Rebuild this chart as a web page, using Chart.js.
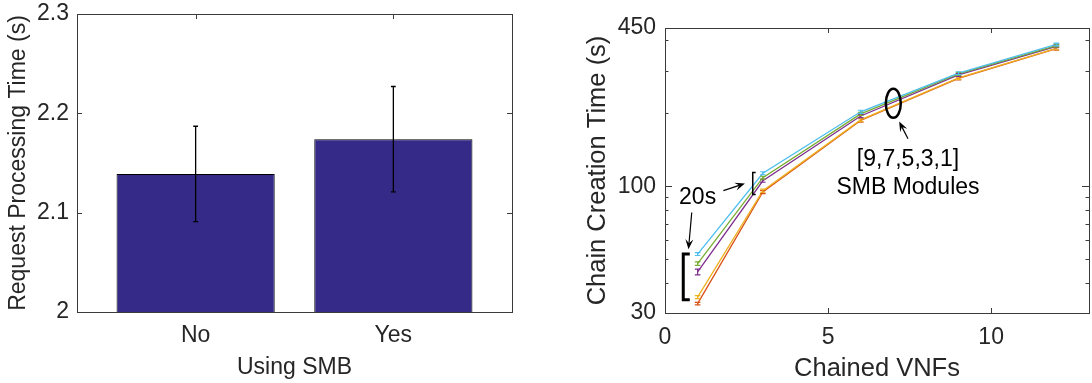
<!DOCTYPE html>
<html>
<head>
<meta charset="utf-8">
<script src="https://cdn.jsdelivr.net/npm/chart.js@4"></script>
<style>
  body { margin: 0; background: #fff; }
  #leftBox { position: absolute; left: 0; top: 0; width: 546px; height: 383px; }
  #rightBox { position: absolute; left: 546px; top: 0; width: 546px; height: 383px; }
</style>
</head>
<body>
<div id="leftBox"><canvas id="barChart"></canvas></div>
<div id="rightBox"><canvas id="lineChart"></canvas></div>
<script>
// ---- left chart data: request processing time with / without SMB ----
const smbLabels = ["No", "Yes"];
const smbPos = [1, 2];
const procTime = [2.139, 2.174];
const procErr = [0.048, 0.053];
const procTicks = [2, 2.1, 2.2, 2.3];

// ---- right chart data: chain creation time vs chained VNFs ----
const vnfs = [1, 3, 6, 9, 12];
const smb9 = [52.5, 113.2, 203, 293, 385];
const smb7 = [48.0, 108.5, 199, 291, 381];
const smb5 = [44.3, 105.4, 195, 288, 378];
const smb3 = [34.9, 95.9, 188, 280, 371];
const smb1 = [32.8, 94.7, 187, 279, 370];
const err9 = [0.7, 1.6, 3, 4, 5];
const err7 = [0.8, 1.5, 3, 4, 5];
const err5 = [1.2, 1.5, 3, 4, 5];
const err3 = [0.5, 1.4, 3, 4, 5];
const err1 = [0.4, 1.4, 3, 4, 5];
const vnfTicks = [0, 5, 10];
const chainTicks = [30, 40, 50, 60, 70, 80, 90, 100, 200, 300, 400, 450];
const chainLabels = [30, 100, 450];

Chart.defaults.font.family = "'Liberation Sans', Arial, Helvetica, sans-serif";
Chart.defaults.color = "#262626";

const axisColor = "#3a3a3a";

// draws the matlab style box and inward ticks
const boxTicks = {
  id: "boxTicks",
  beforeDatasetsDraw(chart, args, opts) {
    const { ctx, chartArea: a, scales: { x, y } } = chart;
    ctx.save();
    ctx.strokeStyle = axisColor;
    ctx.lineWidth = 1;
    ctx.beginPath();
    x.ticks.forEach((t) => {
      const px = Math.round(x.getPixelForValue(t.value)) + 0.5;
      ctx.moveTo(px, a.bottom); ctx.lineTo(px, a.bottom - opts.xLen);
      ctx.moveTo(px, a.top); ctx.lineTo(px, a.top + opts.xLen);
    });
    y.ticks.forEach((t) => {
      const py = Math.round(y.getPixelForValue(t.value)) + 0.5;
      const len = t.label !== "" ? opts.yLen : opts.minorLen;
      ctx.moveTo(a.left, py); ctx.lineTo(a.left + len, py);
      ctx.moveTo(a.right, py); ctx.lineTo(a.right - len, py);
    });
    ctx.stroke();
    ctx.restore();
  },
  afterDatasetsDraw(chart) {
    const { ctx, chartArea: a } = chart;
    ctx.save();
    ctx.strokeStyle = axisColor;
    ctx.lineWidth = 1;
    ctx.strokeRect(Math.round(a.left) + 0.5, Math.round(a.top) + 0.5,
      Math.round(a.right - a.left), Math.round(a.bottom - a.top));
    ctx.restore();
  },
};

// black error bars on the bars
const barErrors = {
  id: "barErrors",
  afterDatasetsDraw(chart) {
    const { ctx, scales: { x, y } } = chart;
    ctx.save();
    ctx.strokeStyle = "#000";
    ctx.lineWidth = 1.3;
    procTime.forEach((v, i) => {
      const px = x.getPixelForValue(smbPos[i]);
      const hi = y.getPixelForValue(v + procErr[i]);
      const lo = y.getPixelForValue(v - procErr[i]);
      ctx.beginPath();
      ctx.moveTo(px, hi); ctx.lineTo(px, lo);
      ctx.moveTo(px - 2.4, hi); ctx.lineTo(px + 2.4, hi);
      ctx.moveTo(px - 2.4, lo); ctx.lineTo(px + 2.4, lo);
      ctx.stroke();
    });
    ctx.restore();
  },
};

// colored error bars on the lines
const lineErrors = {
  id: "lineErrors",
  afterDatasetsDraw(chart) {
    const { ctx, scales: { x, y } } = chart;
    ctx.save();
    ctx.lineWidth = 1.2;
    chart.data.datasets.slice().reverse().forEach((ds) => {
      ctx.strokeStyle = ds.borderColor;
      ds.data.forEach((p, i) => {
        const px = x.getPixelForValue(p.x);
        const hi = y.getPixelForValue(p.y + ds.errs[i]);
        const lo = y.getPixelForValue(p.y - ds.errs[i]);
        ctx.beginPath();
        ctx.moveTo(px, hi); ctx.lineTo(px, lo);
        ctx.moveTo(px - 2.8, hi); ctx.lineTo(px + 2.8, hi);
        ctx.moveTo(px - 2.8, lo); ctx.lineTo(px + 2.8, lo);
        ctx.stroke();
      });
    });
    ctx.restore();
  },
};

function arrow(ctx, x1, y1, x2, y2) {
  const ang = Math.atan2(y2 - y1, x2 - x1);
  const c = Math.cos(ang), s = Math.sin(ang);
  const hl = 10, hw = 4;
  ctx.beginPath();
  ctx.moveTo(x1, y1);
  ctx.lineTo(x2 - hl * 0.6 * c, y2 - hl * 0.6 * s);
  ctx.stroke();
  ctx.beginPath();
  ctx.moveTo(x2, y2);
  ctx.lineTo(x2 - hl * c + hw * s, y2 - hl * s - hw * c);
  ctx.lineTo(x2 - hl * 0.6 * c, y2 - hl * 0.6 * s);
  ctx.lineTo(x2 - hl * c - hw * s, y2 - hl * s + hw * c);
  ctx.closePath();
  ctx.fill();
}

function bracket(ctx, x, xs, yTop, yBot) {
  ctx.beginPath();
  ctx.moveTo(xs, yTop); ctx.lineTo(x, yTop); ctx.lineTo(x, yBot); ctx.lineTo(xs, yBot);
  ctx.stroke();
}

// text, arrows, brackets and the ellipse on the right chart (anchored in data coords)
const notes = {
  id: "notes",
  afterDraw(chart) {
    const { ctx, scales: { x, y } } = chart;
    const X = (v) => x.getPixelForValue(v);
    const Y = (v) => y.getPixelForValue(v);
    ctx.save();
    ctx.fillStyle = "#000";
    ctx.strokeStyle = "#000";
    ctx.font = "23px 'Liberation Sans', Arial, sans-serif";
    ctx.textAlign = "center";
    ctx.textBaseline = "middle";
    ctx.fillText("20s", X(1.0), Y(90));
    ctx.fillText("[9,7,5,3,1]", X(7.45), Y(129));
    ctx.fillText("SMB Modules", X(7.45), Y(99));

    ctx.lineWidth = 1.2;
    arrow(ctx, X(0.82), Y(78), X(0.72), Y(55));
    arrow(ctx, X(1.79), Y(96), X(2.45), Y(102.7));
    arrow(ctx, X(7.45), Y(157), X(7.18), Y(185));

    ctx.lineWidth = 3;
    bracket(ctx, X(0.56), X(0.76), Y(52.5), Y(34));
    ctx.lineWidth = 1.5;
    bracket(ctx, X(2.69), X(2.78), Y(114), Y(92.6));

    ctx.lineWidth = 2.5;
    ctx.beginPath();
    ctx.ellipse(X(7.0), Y(220), 7.5, 14.5, 0, 0, Math.PI * 2);
    ctx.stroke();
    ctx.restore();
  },
};

// fixed axis sizes so the plot boxes land where the reference has them
const fixY = (w) => (s) => { s.width = w; s.paddingTop = 0; s.paddingBottom = 0; };
const fixX = (h) => (s) => { s.height = h; s.paddingLeft = 0; s.paddingRight = 0; };

new Chart(document.getElementById("barChart"), {
  type: "bar",
  data: {
    datasets: [{
      data: procTime.map((v, i) => ({ x: smbPos[i], y: v })),
      backgroundColor: "#352a87",
      borderColor: "#000",
      borderWidth: 1,
      barPercentage: 0.8,
      categoryPercentage: 1,
    }],
  },
  options: {
    responsive: true,
    maintainAspectRatio: false,
    animation: false,
    layout: { padding: { top: 14, right: 34, left: 0, bottom: 0 } },
    plugins: { legend: { display: false }, tooltip: { enabled: false }, boxTicks: { xLen: 5, yLen: 5, minorLen: 3 } },
    scales: {
      x: {
        type: "linear",
        offset: false,
        min: 0.4,
        max: 2.6,
        afterBuildTicks: (s) => { s.ticks = smbPos.map((v) => ({ value: v })); },
        afterFit: fixX(71),
        grid: { display: false, drawTicks: false },
        border: { display: false },
        ticks: { font: { size: 23 }, padding: 10, autoSkip: false, callback: (v) => smbLabels[smbPos.indexOf(v)] },
        title: { display: true, text: "Using SMB", font: { size: 23, lineHeight: 1 }, padding: { top: 0, bottom: 4 } },
      },
      y: {
        min: 2,
        max: 2.3,
        afterBuildTicks: (s) => { s.ticks = procTicks.map((v) => ({ value: v })); },
        afterFit: fixY(77),
        grid: { display: false, drawTicks: false },
        border: { display: false },
        ticks: { font: { size: 23 }, padding: 8, callback: (v) => String(v) },
        title: { display: true, text: "Request Processing Time (s)", font: { size: 23, lineHeight: 1 }, padding: { top: 7, bottom: 0 } },
      },
    },
  },
  plugins: [boxTicks, barErrors],
});

const series = [
  { data: smb9, errs: err9, color: "#4DBEEE" },
  { data: smb7, errs: err7, color: "#77AC30" },
  { data: smb5, errs: err5, color: "#7E2F8E" },
  { data: smb3, errs: err3, color: "#EDB120" },
  { data: smb1, errs: err1, color: "#D95319" },
];

new Chart(document.getElementById("lineChart"), {
  type: "line",
  data: {
    datasets: series.map((s) => ({
      data: s.data.map((v, i) => ({ x: vnfs[i], y: v })),
      errs: s.errs,
      borderColor: s.color,
      borderWidth: 1.3,
      pointRadius: 0,
      tension: 0,
    })),
  },
  options: {
    responsive: true,
    maintainAspectRatio: false,
    animation: false,
    layout: { padding: { top: 28, right: 3, left: 0, bottom: 0 } },
    plugins: { legend: { display: false }, tooltip: { enabled: false }, boxTicks: { xLen: 5, yLen: 7, minorLen: 3.5 } },
    scales: {
      x: {
        type: "linear",
        min: 0,
        max: 13,
        afterBuildTicks: (s) => { s.ticks = vnfTicks.map((v) => ({ value: v })); },
        afterFit: fixX(70),
        grid: { display: false, drawTicks: false },
        border: { display: false },
        ticks: { font: { size: 23 }, padding: 11, autoSkip: false },
        title: { display: true, text: "Chained VNFs", font: { size: 25.5, lineHeight: 1 }, padding: { top: 0, bottom: 1 } },
      },
      y: {
        type: "logarithmic",
        min: 30,
        max: 450,
        afterBuildTicks: (s) => { s.ticks = chainTicks.map((v) => ({ value: v })); },
        afterFit: fixY(119),
        grid: { display: false, drawTicks: false },
        border: { display: false },
        ticks: { font: { size: 23 }, padding: 9, autoSkip: false, callback: (v) => chainLabels.includes(v) ? String(v) : "" },
        title: { display: true, text: "Chain Creation Time (s)", font: { size: 25.5, lineHeight: 1 }, padding: { top: 39, bottom: 0 } },
      },
    },
  },
  plugins: [boxTicks, lineErrors, notes],
});
</script>
</body>
</html>
